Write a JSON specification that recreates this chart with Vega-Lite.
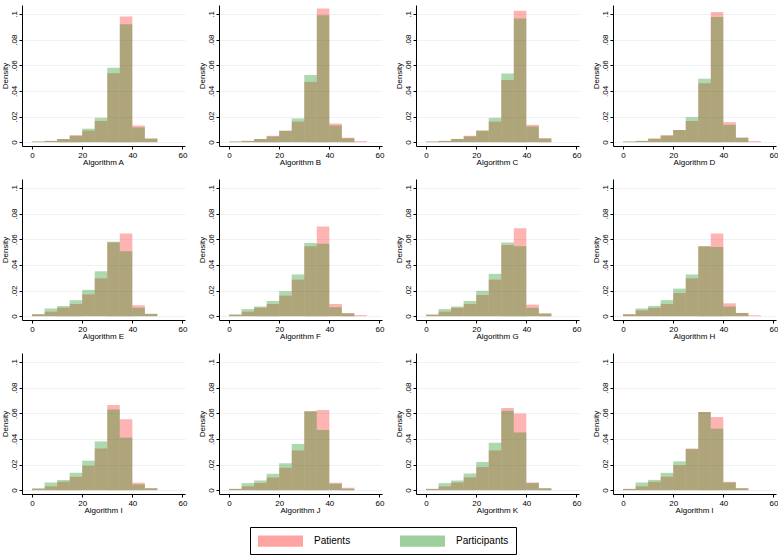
{
"$schema": "https://vega.github.io/schema/vega-lite/v6.json",
"background": "white",
"padding": {"left": 0, "top": 5, "right": 0, "bottom": 0},
"config": {"font": "Liberation Sans", "view": {"stroke": null}},
"data": {"values": [
{"a":"Algorithm A","g":"Patients","x":0,"x2":5,"d":0.0005},{"a":"Algorithm A","g":"Patients","x":5,"x2":10,"d":0.001},{"a":"Algorithm A","g":"Patients","x":10,"x2":15,"d":0.0025},{"a":"Algorithm A","g":"Patients","x":15,"x2":20,"d":0.0054},{"a":"Algorithm A","g":"Patients","x":20,"x2":25,"d":0.009},{"a":"Algorithm A","g":"Patients","x":25,"x2":30,"d":0.0165},{"a":"Algorithm A","g":"Patients","x":30,"x2":35,"d":0.0538},{"a":"Algorithm A","g":"Patients","x":35,"x2":40,"d":0.098},{"a":"Algorithm A","g":"Patients","x":40,"x2":45,"d":0.013},{"a":"Algorithm A","g":"Patients","x":45,"x2":50,"d":0.0028},
{"a":"Algorithm B","g":"Patients","x":0,"x2":5,"d":0.0005},{"a":"Algorithm B","g":"Patients","x":5,"x2":10,"d":0.001},{"a":"Algorithm B","g":"Patients","x":10,"x2":15,"d":0.0025},{"a":"Algorithm B","g":"Patients","x":15,"x2":20,"d":0.005},{"a":"Algorithm B","g":"Patients","x":20,"x2":25,"d":0.0088},{"a":"Algorithm B","g":"Patients","x":25,"x2":30,"d":0.016},{"a":"Algorithm B","g":"Patients","x":30,"x2":35,"d":0.047},{"a":"Algorithm B","g":"Patients","x":35,"x2":40,"d":0.1043},{"a":"Algorithm B","g":"Patients","x":40,"x2":45,"d":0.0145},{"a":"Algorithm B","g":"Patients","x":45,"x2":50,"d":0.0035},{"a":"Algorithm B","g":"Patients","x":50,"x2":55,"d":0.0008},
{"a":"Algorithm C","g":"Patients","x":0,"x2":5,"d":0.0005},{"a":"Algorithm C","g":"Patients","x":5,"x2":10,"d":0.001},{"a":"Algorithm C","g":"Patients","x":10,"x2":15,"d":0.0025},{"a":"Algorithm C","g":"Patients","x":15,"x2":20,"d":0.005},{"a":"Algorithm C","g":"Patients","x":20,"x2":25,"d":0.009},{"a":"Algorithm C","g":"Patients","x":25,"x2":30,"d":0.016},{"a":"Algorithm C","g":"Patients","x":30,"x2":35,"d":0.0485},{"a":"Algorithm C","g":"Patients","x":35,"x2":40,"d":0.1026},{"a":"Algorithm C","g":"Patients","x":40,"x2":45,"d":0.0135},{"a":"Algorithm C","g":"Patients","x":45,"x2":50,"d":0.003},
{"a":"Algorithm D","g":"Patients","x":0,"x2":5,"d":0.0005},{"a":"Algorithm D","g":"Patients","x":5,"x2":10,"d":0.001},{"a":"Algorithm D","g":"Patients","x":10,"x2":15,"d":0.003},{"a":"Algorithm D","g":"Patients","x":15,"x2":20,"d":0.0055},{"a":"Algorithm D","g":"Patients","x":20,"x2":25,"d":0.0095},{"a":"Algorithm D","g":"Patients","x":25,"x2":30,"d":0.0165},{"a":"Algorithm D","g":"Patients","x":30,"x2":35,"d":0.046},{"a":"Algorithm D","g":"Patients","x":35,"x2":40,"d":0.1015},{"a":"Algorithm D","g":"Patients","x":40,"x2":45,"d":0.0156},{"a":"Algorithm D","g":"Patients","x":45,"x2":50,"d":0.0035},{"a":"Algorithm D","g":"Patients","x":50,"x2":55,"d":0.0008},
{"a":"Algorithm E","g":"Patients","x":0,"x2":5,"d":0.0015},{"a":"Algorithm E","g":"Patients","x":5,"x2":10,"d":0.0035},{"a":"Algorithm E","g":"Patients","x":10,"x2":15,"d":0.0065},{"a":"Algorithm E","g":"Patients","x":15,"x2":20,"d":0.0095},{"a":"Algorithm E","g":"Patients","x":20,"x2":25,"d":0.017},{"a":"Algorithm E","g":"Patients","x":25,"x2":30,"d":0.0295},{"a":"Algorithm E","g":"Patients","x":30,"x2":35,"d":0.0575},{"a":"Algorithm E","g":"Patients","x":35,"x2":40,"d":0.0645},{"a":"Algorithm E","g":"Patients","x":40,"x2":45,"d":0.0085},{"a":"Algorithm E","g":"Patients","x":45,"x2":50,"d":0.0018},
{"a":"Algorithm F","g":"Patients","x":0,"x2":5,"d":0.0012},{"a":"Algorithm F","g":"Patients","x":5,"x2":10,"d":0.0035},{"a":"Algorithm F","g":"Patients","x":10,"x2":15,"d":0.0065},{"a":"Algorithm F","g":"Patients","x":15,"x2":20,"d":0.0095},{"a":"Algorithm F","g":"Patients","x":20,"x2":25,"d":0.016},{"a":"Algorithm F","g":"Patients","x":25,"x2":30,"d":0.0285},{"a":"Algorithm F","g":"Patients","x":30,"x2":35,"d":0.0545},{"a":"Algorithm F","g":"Patients","x":35,"x2":40,"d":0.07},{"a":"Algorithm F","g":"Patients","x":40,"x2":45,"d":0.0095},{"a":"Algorithm F","g":"Patients","x":45,"x2":50,"d":0.0025},{"a":"Algorithm F","g":"Patients","x":50,"x2":55,"d":0.0008},
{"a":"Algorithm G","g":"Patients","x":0,"x2":5,"d":0.0012},{"a":"Algorithm G","g":"Patients","x":5,"x2":10,"d":0.0035},{"a":"Algorithm G","g":"Patients","x":10,"x2":15,"d":0.0065},{"a":"Algorithm G","g":"Patients","x":15,"x2":20,"d":0.0095},{"a":"Algorithm G","g":"Patients","x":20,"x2":25,"d":0.0165},{"a":"Algorithm G","g":"Patients","x":25,"x2":30,"d":0.0285},{"a":"Algorithm G","g":"Patients","x":30,"x2":35,"d":0.0555},{"a":"Algorithm G","g":"Patients","x":35,"x2":40,"d":0.0685},{"a":"Algorithm G","g":"Patients","x":40,"x2":45,"d":0.009},{"a":"Algorithm G","g":"Patients","x":45,"x2":50,"d":0.002},
{"a":"Algorithm H","g":"Patients","x":0,"x2":5,"d":0.0015},{"a":"Algorithm H","g":"Patients","x":5,"x2":10,"d":0.0045},{"a":"Algorithm H","g":"Patients","x":10,"x2":15,"d":0.0065},{"a":"Algorithm H","g":"Patients","x":15,"x2":20,"d":0.0095},{"a":"Algorithm H","g":"Patients","x":20,"x2":25,"d":0.018},{"a":"Algorithm H","g":"Patients","x":25,"x2":30,"d":0.0295},{"a":"Algorithm H","g":"Patients","x":30,"x2":35,"d":0.0545},{"a":"Algorithm H","g":"Patients","x":35,"x2":40,"d":0.0645},{"a":"Algorithm H","g":"Patients","x":40,"x2":45,"d":0.01},{"a":"Algorithm H","g":"Patients","x":45,"x2":50,"d":0.0025},{"a":"Algorithm H","g":"Patients","x":50,"x2":55,"d":0.0007},
{"a":"Algorithm I","g":"Patients","x":0,"x2":5,"d":0.001},{"a":"Algorithm I","g":"Patients","x":5,"x2":10,"d":0.003},{"a":"Algorithm I","g":"Patients","x":10,"x2":15,"d":0.0065},{"a":"Algorithm I","g":"Patients","x":15,"x2":20,"d":0.0105},{"a":"Algorithm I","g":"Patients","x":20,"x2":25,"d":0.019},{"a":"Algorithm I","g":"Patients","x":25,"x2":30,"d":0.0325},{"a":"Algorithm I","g":"Patients","x":30,"x2":35,"d":0.0664},{"a":"Algorithm I","g":"Patients","x":35,"x2":40,"d":0.0554},{"a":"Algorithm I","g":"Patients","x":40,"x2":45,"d":0.0058},{"a":"Algorithm I","g":"Patients","x":45,"x2":50,"d":0.0015},
{"a":"Algorithm J","g":"Patients","x":0,"x2":5,"d":0.001},{"a":"Algorithm J","g":"Patients","x":5,"x2":10,"d":0.003},{"a":"Algorithm J","g":"Patients","x":10,"x2":15,"d":0.0055},{"a":"Algorithm J","g":"Patients","x":15,"x2":20,"d":0.0098},{"a":"Algorithm J","g":"Patients","x":20,"x2":25,"d":0.0175},{"a":"Algorithm J","g":"Patients","x":25,"x2":30,"d":0.031},{"a":"Algorithm J","g":"Patients","x":30,"x2":35,"d":0.0615},{"a":"Algorithm J","g":"Patients","x":35,"x2":40,"d":0.0625},{"a":"Algorithm J","g":"Patients","x":40,"x2":45,"d":0.0058},{"a":"Algorithm J","g":"Patients","x":45,"x2":50,"d":0.0018},
{"a":"Algorithm K","g":"Patients","x":0,"x2":5,"d":0.001},{"a":"Algorithm K","g":"Patients","x":5,"x2":10,"d":0.003},{"a":"Algorithm K","g":"Patients","x":10,"x2":15,"d":0.006},{"a":"Algorithm K","g":"Patients","x":15,"x2":20,"d":0.01},{"a":"Algorithm K","g":"Patients","x":20,"x2":25,"d":0.018},{"a":"Algorithm K","g":"Patients","x":25,"x2":30,"d":0.031},{"a":"Algorithm K","g":"Patients","x":30,"x2":35,"d":0.064},{"a":"Algorithm K","g":"Patients","x":35,"x2":40,"d":0.0598},{"a":"Algorithm K","g":"Patients","x":40,"x2":45,"d":0.006},{"a":"Algorithm K","g":"Patients","x":45,"x2":50,"d":0.0015},
{"a":"Algorithm l","g":"Patients","x":0,"x2":5,"d":0.001},{"a":"Algorithm l","g":"Patients","x":5,"x2":10,"d":0.003},{"a":"Algorithm l","g":"Patients","x":10,"x2":15,"d":0.0065},{"a":"Algorithm l","g":"Patients","x":15,"x2":20,"d":0.0105},{"a":"Algorithm l","g":"Patients","x":20,"x2":25,"d":0.0195},{"a":"Algorithm l","g":"Patients","x":25,"x2":30,"d":0.0325},{"a":"Algorithm l","g":"Patients","x":30,"x2":35,"d":0.061},{"a":"Algorithm l","g":"Patients","x":35,"x2":40,"d":0.057},{"a":"Algorithm l","g":"Patients","x":40,"x2":45,"d":0.0065},{"a":"Algorithm l","g":"Patients","x":45,"x2":50,"d":0.0015},
{"a":"Algorithm A","g":"Participants","x":0,"x2":5,"d":0.0005},{"a":"Algorithm A","g":"Participants","x":5,"x2":10,"d":0.001},{"a":"Algorithm A","g":"Participants","x":10,"x2":15,"d":0.0025},{"a":"Algorithm A","g":"Participants","x":15,"x2":20,"d":0.0049},{"a":"Algorithm A","g":"Participants","x":20,"x2":25,"d":0.0105},{"a":"Algorithm A","g":"Participants","x":25,"x2":30,"d":0.019},{"a":"Algorithm A","g":"Participants","x":30,"x2":35,"d":0.058},{"a":"Algorithm A","g":"Participants","x":35,"x2":40,"d":0.092},{"a":"Algorithm A","g":"Participants","x":40,"x2":45,"d":0.0115},{"a":"Algorithm A","g":"Participants","x":45,"x2":50,"d":0.0028},
{"a":"Algorithm B","g":"Participants","x":0,"x2":5,"d":0.0005},{"a":"Algorithm B","g":"Participants","x":5,"x2":10,"d":0.001},{"a":"Algorithm B","g":"Participants","x":10,"x2":15,"d":0.0025},{"a":"Algorithm B","g":"Participants","x":15,"x2":20,"d":0.0045},{"a":"Algorithm B","g":"Participants","x":20,"x2":25,"d":0.009},{"a":"Algorithm B","g":"Participants","x":25,"x2":30,"d":0.0185},{"a":"Algorithm B","g":"Participants","x":30,"x2":35,"d":0.0523},{"a":"Algorithm B","g":"Participants","x":35,"x2":40,"d":0.099},{"a":"Algorithm B","g":"Participants","x":40,"x2":45,"d":0.013},{"a":"Algorithm B","g":"Participants","x":45,"x2":50,"d":0.003},
{"a":"Algorithm C","g":"Participants","x":0,"x2":5,"d":0.0005},{"a":"Algorithm C","g":"Participants","x":5,"x2":10,"d":0.001},{"a":"Algorithm C","g":"Participants","x":10,"x2":15,"d":0.0025},{"a":"Algorithm C","g":"Participants","x":15,"x2":20,"d":0.0045},{"a":"Algorithm C","g":"Participants","x":20,"x2":25,"d":0.009},{"a":"Algorithm C","g":"Participants","x":25,"x2":30,"d":0.019},{"a":"Algorithm C","g":"Participants","x":30,"x2":35,"d":0.0536},{"a":"Algorithm C","g":"Participants","x":35,"x2":40,"d":0.0964},{"a":"Algorithm C","g":"Participants","x":40,"x2":45,"d":0.0122},{"a":"Algorithm C","g":"Participants","x":45,"x2":50,"d":0.0028},
{"a":"Algorithm D","g":"Participants","x":0,"x2":5,"d":0.0005},{"a":"Algorithm D","g":"Participants","x":5,"x2":10,"d":0.001},{"a":"Algorithm D","g":"Participants","x":10,"x2":15,"d":0.0025},{"a":"Algorithm D","g":"Participants","x":15,"x2":20,"d":0.005},{"a":"Algorithm D","g":"Participants","x":20,"x2":25,"d":0.0095},{"a":"Algorithm D","g":"Participants","x":25,"x2":30,"d":0.0195},{"a":"Algorithm D","g":"Participants","x":30,"x2":35,"d":0.0495},{"a":"Algorithm D","g":"Participants","x":35,"x2":40,"d":0.0977},{"a":"Algorithm D","g":"Participants","x":40,"x2":45,"d":0.0135},{"a":"Algorithm D","g":"Participants","x":45,"x2":50,"d":0.0035},
{"a":"Algorithm E","g":"Participants","x":0,"x2":5,"d":0.0015},{"a":"Algorithm E","g":"Participants","x":5,"x2":10,"d":0.006},{"a":"Algorithm E","g":"Participants","x":10,"x2":15,"d":0.008},{"a":"Algorithm E","g":"Participants","x":15,"x2":20,"d":0.0125},{"a":"Algorithm E","g":"Participants","x":20,"x2":25,"d":0.0205},{"a":"Algorithm E","g":"Participants","x":25,"x2":30,"d":0.035},{"a":"Algorithm E","g":"Participants","x":30,"x2":35,"d":0.058},{"a":"Algorithm E","g":"Participants","x":35,"x2":40,"d":0.0506},{"a":"Algorithm E","g":"Participants","x":40,"x2":45,"d":0.0065},{"a":"Algorithm E","g":"Participants","x":45,"x2":50,"d":0.0018},
{"a":"Algorithm F","g":"Participants","x":0,"x2":5,"d":0.0012},{"a":"Algorithm F","g":"Participants","x":5,"x2":10,"d":0.0055},{"a":"Algorithm F","g":"Participants","x":10,"x2":15,"d":0.0075},{"a":"Algorithm F","g":"Participants","x":15,"x2":20,"d":0.0118},{"a":"Algorithm F","g":"Participants","x":20,"x2":25,"d":0.0195},{"a":"Algorithm F","g":"Participants","x":25,"x2":30,"d":0.0325},{"a":"Algorithm F","g":"Participants","x":30,"x2":35,"d":0.057},{"a":"Algorithm F","g":"Participants","x":35,"x2":40,"d":0.0565},{"a":"Algorithm F","g":"Participants","x":40,"x2":45,"d":0.007},{"a":"Algorithm F","g":"Participants","x":45,"x2":50,"d":0.002},
{"a":"Algorithm G","g":"Participants","x":0,"x2":5,"d":0.0012},{"a":"Algorithm G","g":"Participants","x":5,"x2":10,"d":0.0055},{"a":"Algorithm G","g":"Participants","x":10,"x2":15,"d":0.0075},{"a":"Algorithm G","g":"Participants","x":15,"x2":20,"d":0.0118},{"a":"Algorithm G","g":"Participants","x":20,"x2":25,"d":0.0198},{"a":"Algorithm G","g":"Participants","x":25,"x2":30,"d":0.033},{"a":"Algorithm G","g":"Participants","x":30,"x2":35,"d":0.0575},{"a":"Algorithm G","g":"Participants","x":35,"x2":40,"d":0.0545},{"a":"Algorithm G","g":"Participants","x":40,"x2":45,"d":0.0065},{"a":"Algorithm G","g":"Participants","x":45,"x2":50,"d":0.002},
{"a":"Algorithm H","g":"Participants","x":0,"x2":5,"d":0.0015},{"a":"Algorithm H","g":"Participants","x":5,"x2":10,"d":0.006},{"a":"Algorithm H","g":"Participants","x":10,"x2":15,"d":0.008},{"a":"Algorithm H","g":"Participants","x":15,"x2":20,"d":0.0125},{"a":"Algorithm H","g":"Participants","x":20,"x2":25,"d":0.0215},{"a":"Algorithm H","g":"Participants","x":25,"x2":30,"d":0.0325},{"a":"Algorithm H","g":"Participants","x":30,"x2":35,"d":0.0545},{"a":"Algorithm H","g":"Participants","x":35,"x2":40,"d":0.054},{"a":"Algorithm H","g":"Participants","x":40,"x2":45,"d":0.0075},{"a":"Algorithm H","g":"Participants","x":45,"x2":50,"d":0.0025},
{"a":"Algorithm I","g":"Participants","x":0,"x2":5,"d":0.0015},{"a":"Algorithm I","g":"Participants","x":5,"x2":10,"d":0.006},{"a":"Algorithm I","g":"Participants","x":10,"x2":15,"d":0.008},{"a":"Algorithm I","g":"Participants","x":15,"x2":20,"d":0.0135},{"a":"Algorithm I","g":"Participants","x":20,"x2":25,"d":0.023},{"a":"Algorithm I","g":"Participants","x":25,"x2":30,"d":0.038},{"a":"Algorithm I","g":"Participants","x":30,"x2":35,"d":0.063},{"a":"Algorithm I","g":"Participants","x":35,"x2":40,"d":0.041},{"a":"Algorithm I","g":"Participants","x":40,"x2":45,"d":0.0045},{"a":"Algorithm I","g":"Participants","x":45,"x2":50,"d":0.0015},
{"a":"Algorithm J","g":"Participants","x":0,"x2":5,"d":0.001},{"a":"Algorithm J","g":"Participants","x":5,"x2":10,"d":0.0055},{"a":"Algorithm J","g":"Participants","x":10,"x2":15,"d":0.0075},{"a":"Algorithm J","g":"Participants","x":15,"x2":20,"d":0.0128},{"a":"Algorithm J","g":"Participants","x":20,"x2":25,"d":0.021},{"a":"Algorithm J","g":"Participants","x":25,"x2":30,"d":0.036},{"a":"Algorithm J","g":"Participants","x":30,"x2":35,"d":0.0615},{"a":"Algorithm J","g":"Participants","x":35,"x2":40,"d":0.047},{"a":"Algorithm J","g":"Participants","x":40,"x2":45,"d":0.005},{"a":"Algorithm J","g":"Participants","x":45,"x2":50,"d":0.001},
{"a":"Algorithm K","g":"Participants","x":0,"x2":5,"d":0.001},{"a":"Algorithm K","g":"Participants","x":5,"x2":10,"d":0.0055},{"a":"Algorithm K","g":"Participants","x":10,"x2":15,"d":0.0075},{"a":"Algorithm K","g":"Participants","x":15,"x2":20,"d":0.013},{"a":"Algorithm K","g":"Participants","x":20,"x2":25,"d":0.022},{"a":"Algorithm K","g":"Participants","x":25,"x2":30,"d":0.037},{"a":"Algorithm K","g":"Participants","x":30,"x2":35,"d":0.062},{"a":"Algorithm K","g":"Participants","x":35,"x2":40,"d":0.045},{"a":"Algorithm K","g":"Participants","x":40,"x2":45,"d":0.0055},{"a":"Algorithm K","g":"Participants","x":45,"x2":50,"d":0.0015},
{"a":"Algorithm l","g":"Participants","x":0,"x2":5,"d":0.001},{"a":"Algorithm l","g":"Participants","x":5,"x2":10,"d":0.006},{"a":"Algorithm l","g":"Participants","x":10,"x2":15,"d":0.008},{"a":"Algorithm l","g":"Participants","x":15,"x2":20,"d":0.0135},{"a":"Algorithm l","g":"Participants","x":20,"x2":25,"d":0.0225},{"a":"Algorithm l","g":"Participants","x":25,"x2":30,"d":0.032},{"a":"Algorithm l","g":"Participants","x":30,"x2":35,"d":0.061},{"a":"Algorithm l","g":"Participants","x":35,"x2":40,"d":0.048},{"a":"Algorithm l","g":"Participants","x":40,"x2":45,"d":0.006},{"a":"Algorithm l","g":"Participants","x":45,"x2":50,"d":0.0015}
]},
"columns": 4,
"facet": {"field": "a", "type": "nominal",
  "sort": ["Algorithm A","Algorithm B","Algorithm C","Algorithm D","Algorithm E","Algorithm F","Algorithm G","Algorithm H","Algorithm I","Algorithm J","Algorithm K","Algorithm l"],
  "header": {"title": null, "labelOrient": "bottom", "labelFontSize": 8, "labelPadding": 0, "labelColor": "#000", "labelFont": "Liberation Sans"}},
"spacing": {"row": 12, "column": 10},
"resolve": {"axis": {"x": "independent", "y": "independent"}},
"spec": {
  "width": 163, "height": 141,
  "mark": {"type": "bar", "fillOpacity": 0.33, "strokeOpacity": 0.45, "strokeWidth": 1},
  "encoding": {
    "x": {"field": "x", "type": "quantitative", "scale": {"domain": [-4, 61], "nice": false, "zero": false},
          "axis": {"values": [0, 20, 40, 60], "title": null, "labelFontSize": 8, "labelColor": "#000", "tickColor": "#000", "domainColor": "#000", "tickSize": 3, "labelPadding": 2, "grid": false}},
    "x2": {"field": "x2"},
    "y": {"field": "d", "type": "quantitative", "scale": {"domain": [-0.003, 0.107], "nice": false, "zero": false},
          "axis": {"values": [0, 0.02, 0.04, 0.06, 0.08, 0.1], "title": "Density", "titleFontSize": 8, "titleFontWeight": "normal", "titlePadding": 1,
                   "labelExpr": "datum.value == 0 ? '0' : replace(format(datum.value, '.2~f'), '0.', '.')",
                   "labelAngle": -90, "labelAlign": "center", "labelBaseline": "bottom", "labelFontSize": 8, "labelColor": "#000", "labelPadding": 1,
                   "tickColor": "#000", "domainColor": "#000", "tickSize": 3, "grid": true, "gridColor": "#eef2f5", "gridWidth": 1}},
    "y2": {"datum": 0},
    "color": {"field": "g", "type": "nominal", "scale": {"domain": ["Patients", "Participants"], "range": ["#ff1a1a", "#0a8a0a"]},
              "legend": {"orient": "none", "legendX": 228, "legendY": 522, "direction": "horizontal", "title": null,
                         "symbolType": "M-1,-0.95L6.5,-0.95L6.5,0.95L-1,0.95Z", "symbolSize": 144, "symbolOpacity": 0.4, "symbolStrokeWidth": 1.5,
                         "labelFontSize": 10, "labelColor": "#000", "columnPadding": 48, "labelOffset": 43,
                         "strokeColor": "#000", "padding": 7, "fillColor": "white"}}
  }
}
}
